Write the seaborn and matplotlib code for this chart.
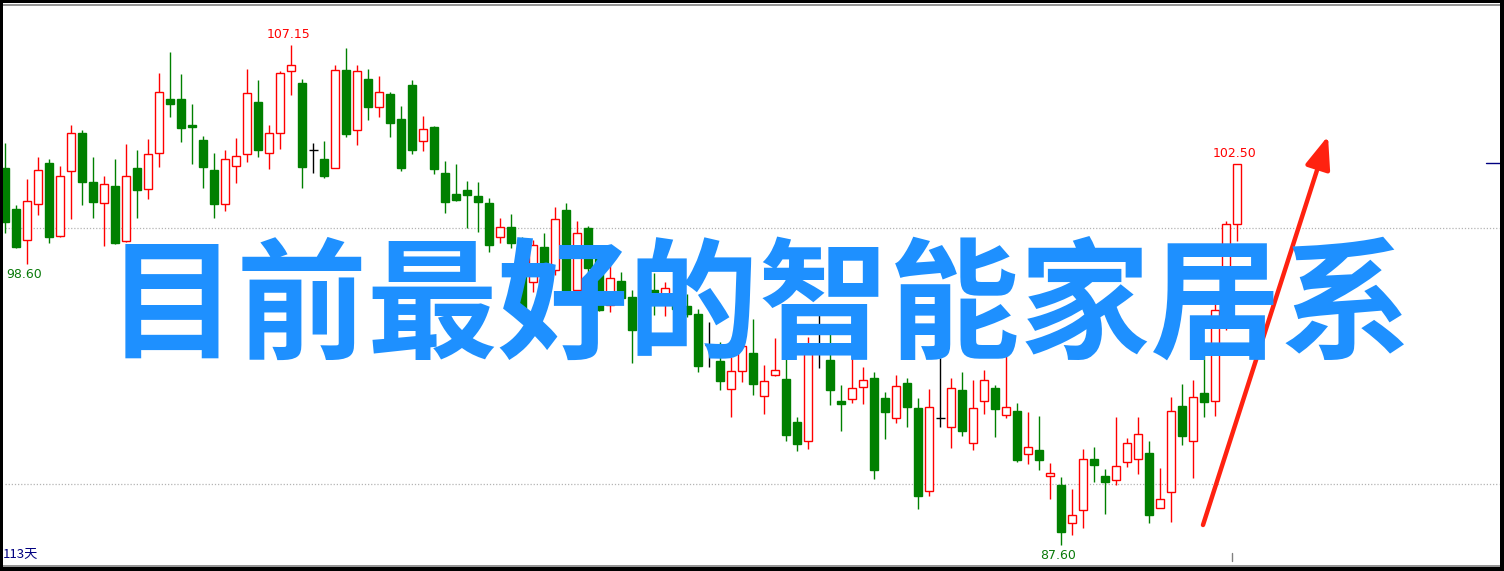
import matplotlib
matplotlib.use("Agg")
import matplotlib.pyplot as plt
import seaborn as sns
import numpy as np
from matplotlib.lines import Line2D
from matplotlib.patches import Rectangle

# estilo
sns.set_theme(style="white")
plt.rcParams["font.family"] = ["Noto Sans CJK SC", "DejaVu Sans"]

# dados OHLC (113 dias)
opens = [102.35, 100.74, 99.51, 100.92, 102.54, 99.69, 102.21, 103.71, 101.79, 100.96,
         101.64, 99.50, 102.34, 101.51, 102.92, 105.04, 105.04, 104.01, 103.44, 102.26,
         100.92, 102.41, 102.88, 104.92, 102.92, 103.70, 106.12, 105.66, 103.03, 102.69,
         102.33, 106.17, 103.82, 105.82, 104.71, 105.23, 104.26, 105.59, 103.39, 103.94,
         102.15, 101.32, 101.48, 101.25, 100.97, 99.63, 100.03, 99.49, 97.90, 99.25,
         98.34, 100.70, 97.57, 99.99, 99.20, 96.98, 97.92, 97.30, 96.03, 97.57,
         97.30, 97.02, 96.95, 96.63, 95.42, 94.81, 93.69, 94.39, 95.10, 93.45,
         94.27, 94.09, 92.41, 91.69, 96.01, 94.83, 93.23, 93.32, 93.77, 94.13,
         93.35, 92.59, 93.93, 92.96, 89.70, 92.59, 92.20, 93.66, 91.58, 93.22,
         93.74, 92.67, 92.84, 91.15, 91.32, 90.29, 89.95, 88.45, 88.96, 90.96,
         90.30, 90.13, 90.86, 90.95, 91.20, 89.04, 89.66, 93.04, 91.66, 93.54,
         93.22, 96.55, 100.14]
highs = [103.31, 100.89, 101.91, 102.77, 102.69, 102.42, 104.02, 103.83, 102.77, 102.03,
         102.69, 103.28, 103.05, 103.48, 106.06, 106.88, 106.02, 104.84, 103.59, 102.93,
         103.05, 103.51, 106.21, 105.78, 104.02, 106.15, 107.15, 105.82, 103.32, 103.40,
         106.37, 107.03, 106.37, 106.21, 105.94, 105.31, 104.77, 105.78, 104.37, 103.98,
         102.61, 102.50, 101.83, 101.79, 101.17, 100.39, 100.54, 99.64, 99.53, 99.80,
         100.82, 100.97, 100.27, 100.07, 99.33, 98.63, 98.28, 97.57, 97.77, 98.24,
         97.88, 97.26, 97.41, 96.83, 96.32, 95.54, 94.95, 95.89, 96.44, 94.64,
         95.71, 95.23, 92.61, 95.74, 96.99, 96.01, 93.86, 94.91, 94.56, 94.37,
         93.58, 94.25, 94.13, 93.35, 93.70, 94.91, 94.13, 94.37, 94.05, 94.44,
         93.86, 95.03, 93.15, 92.80, 92.64, 90.81, 90.26, 89.79, 91.35, 91.44,
         90.57, 92.61, 91.80, 92.61, 91.67, 90.62, 93.39, 93.91, 94.06, 95.23,
         97.18, 100.27, 102.50]
lows = [99.79, 99.22, 98.60, 100.52, 99.42, 99.65, 100.36, 100.91, 100.40, 99.30,
        99.36, 99.46, 100.40, 101.14, 102.37, 104.35, 103.37, 102.51, 101.57, 100.40,
        100.67, 101.77, 102.59, 102.78, 102.31, 103.07, 105.21, 101.57, 102.16, 101.96,
        102.33, 103.56, 103.25, 104.23, 104.35, 103.56, 102.24, 102.90, 103.02, 102.12,
        100.59, 101.06, 100.01, 99.85, 99.07, 99.42, 99.21, 96.62, 97.49, 97.45,
        98.17, 97.18, 97.34, 98.16, 96.75, 96.72, 97.01, 94.73, 95.81, 96.61,
        96.57, 96.48, 96.53, 94.38, 94.56, 93.66, 92.62, 93.99, 93.48, 92.73,
        94.22, 91.68, 91.29, 91.34, 94.53, 93.09, 92.07, 93.16, 93.13, 90.19,
        91.76, 92.38, 92.23, 89.02, 89.53, 92.23, 91.41, 91.87, 91.33, 92.73,
        91.83, 92.59, 90.87, 90.78, 90.55, 89.41, 87.60, 87.98, 88.28, 90.06,
        88.82, 89.97, 90.64, 90.39, 88.47, 89.04, 88.51, 91.52, 90.23, 92.62,
        92.66, 96.01, 99.50]
closes = [100.24, 99.26, 101.04, 102.25, 99.65, 102.03, 103.70, 101.81, 101.02, 101.70,
          99.42, 102.03, 101.49, 102.88, 105.31, 104.86, 103.92, 103.96, 102.39, 100.95,
          102.68, 102.80, 105.26, 103.03, 103.70, 106.06, 106.36, 102.39, 103.03, 102.04,
          106.16, 103.68, 106.12, 104.74, 105.30, 104.11, 102.35, 103.06, 103.85, 102.31,
          101.02, 101.10, 101.30, 101.02, 99.34, 100.02, 99.43, 96.72, 99.32, 98.43,
          100.34, 97.34, 99.79, 98.42, 96.79, 98.03, 97.28, 96.03, 97.52, 97.31,
          97.64, 96.83, 96.64, 94.61, 95.42, 94.03, 94.39, 95.37, 93.89, 94.00,
          94.43, 91.91, 91.56, 95.15, 96.01, 93.65, 93.13, 93.73, 94.04, 90.55,
          92.81, 93.84, 93.01, 89.53, 93.02, 92.59, 93.73, 92.07, 92.95, 94.04,
          92.93, 93.02, 90.94, 91.43, 90.94, 90.42, 88.12, 88.76, 90.95, 90.74,
          90.08, 90.68, 91.58, 91.93, 88.79, 89.39, 92.84, 91.87, 93.39, 93.20,
          96.79, 100.14, 102.50]

grid_levels = [100, 90]
title_text = "目前最好的智能家居系"
days_label = "113天"
hi_marks = [(26, "107.15"), (112, "102.50")]
lo_marks = [(2, "98.60"), (96, "87.60")]

RED = "#FF0000"
GREEN = "#008000"

W, H = 1504, 571
fig = plt.figure(figsize=(W / 100, H / 100), dpi=100)
fig.patch.set_facecolor("white")
ax = fig.add_axes([0, 0, 1, 1])
ax.set_facecolor("white")
ax.set_xlim(-0.482, 136.25)
ax.set_ylim(86.59, 108.91)
ax.axis("off")

# linhas de grade pontilhadas
for lv in grid_levels:
    ax.axhline(lv, xmin=0.003, xmax=0.997, color="#b4b4b4", lw=0.9,
               linestyle=(0, (1, 1.5)), zorder=1)

x = np.arange(len(opens))
o = np.array(opens)
c = np.array(closes)
h = np.array(highs)
l = np.array(lows)

up = c > o
down = c < o
doji = c == o

wick_colors = np.where(up, RED, np.where(down, GREEN, "black"))
ax.vlines(x, l, h, colors=wick_colors, lw=1.0, zorder=2)

bw = 0.72
bottom = np.minimum(o, c)
height = np.abs(c - o)
ax.bar(x[up], height[up], bottom=bottom[up], width=bw, facecolor="white",
       edgecolor=RED, linewidth=1.0, zorder=3)
ax.bar(x[down], height[down], bottom=bottom[down], width=bw, facecolor=GREEN,
       edgecolor=GREEN, linewidth=1.0, zorder=3)
ax.hlines(o[doji], x[doji] - bw / 2 - 0.05, x[doji] + bw / 2 + 0.05,
          colors="black", lw=1.0, zorder=3)

# rótulos de máximos / mínimos
for i, txt in hi_marks:
    ax.annotate(txt, (i, h[i]), xytext=(-2, 3), textcoords="offset points",
                ha="center", va="bottom", color=RED, fontsize=9,
                family="DejaVu Sans", zorder=4)
for i, txt in lo_marks:
    ax.annotate(txt, (i, l[i]), xytext=(-2, -3), textcoords="offset points",
                ha="center", va="top", color="#0a7a0a", fontsize=9,
                family="DejaVu Sans", zorder=4)

# seta vermelha
ax.annotate("", xy=(1328 / W, 1 - 136 / H), xytext=(1203 / W, 1 - 525 / H),
            xycoords="figure fraction", textcoords="figure fraction",
            arrowprops=dict(arrowstyle="-|>,head_length=0.9,head_width=0.35",
                            color="#FF2210", lw=3.2, mutation_scale=22,
                            shrinkA=0, shrinkB=0), zorder=5)

# texto grande
fig.text(0.505, 1 - 311 / H, title_text, ha="center", va="center",
         fontsize=94, fontweight="bold", color="#1E90FF",
         family=["Noto Sans CJK SC", "DejaVu Sans"], zorder=10)

fig.text(3 / W, 1 - 554 / H, days_label, ha="left", va="center",
         fontsize=9.5, color="#000080",
         family=["Noto Sans CJK SC", "DejaVu Sans"])

# moldura
fig.add_artist(Rectangle((0, 0), 3 / W, 1, transform=fig.transFigure,
                         color="black", lw=0, zorder=20))
fig.add_artist(Rectangle((0, 1 - 3 / H), 1, 3 / H, transform=fig.transFigure,
                         color="black", lw=0, zorder=20))
fig.add_artist(Rectangle((1 - 4 / W, 0), 4 / W, 1, transform=fig.transFigure,
                         color="black", lw=0, zorder=20))
fig.add_artist(Rectangle((0, 0), 1, 4 / H, transform=fig.transFigure,
                         color="black", lw=0, zorder=20))
fig.add_artist(Line2D([0, 1], [1 - 4.5 / H, 1 - 4.5 / H], transform=fig.transFigure,
                      color="#808080", lw=1.2, zorder=19))
fig.add_artist(Line2D([0, 1], [5 / H, 5 / H], transform=fig.transFigure,
                      color="#808080", lw=1.2, zorder=19))
# marcas laterais
fig.add_artist(Line2D([1486 / W, 1500 / W], [1 - 163 / H, 1 - 163 / H],
                      transform=fig.transFigure, color="#000080", lw=1.0))
fig.add_artist(Line2D([1232 / W, 1232 / W], [1 - 553 / H, 1 - 561 / H],
                      transform=fig.transFigure, color="#808080", lw=1.0))

fig.savefig("out.png", dpi=100, facecolor="white")
